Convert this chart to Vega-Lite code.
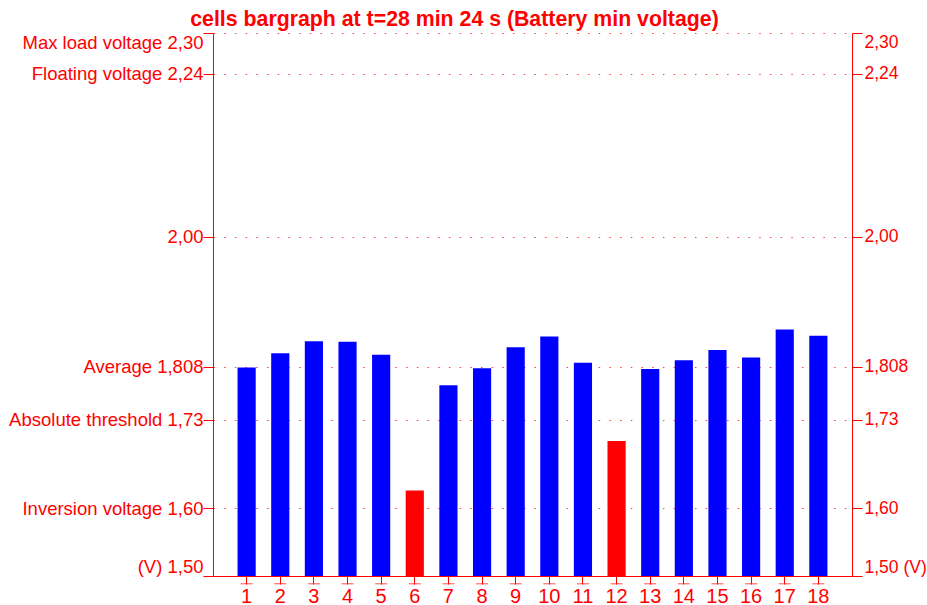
{
  "$schema": "https://vega.github.io/schema/vega-lite/v6.json",
  "autosize": "none",
  "width": 639,
  "height": 543,
  "padding": {"left": 213, "top": 33, "right": 75, "bottom": 29},
  "background": "white",
  "config": {"view": {"stroke": null}, "font": "Liberation Sans"},
  "title": {
    "text": "cells bargraph at t=28 min 24 s (Battery min voltage)",
    "fontSize": 21.3,
    "fontWeight": "bold",
    "color": "#FF0000",
    "font": "Liberation Sans",
    "anchor": "middle",
    "frame": "group",
    "dx": -78,
    "offset": 2
  },
  "data": {
    "values": [
      {"cell": 1, "v": 1.807},
      {"cell": 2, "v": 1.828},
      {"cell": 3, "v": 1.846},
      {"cell": 4, "v": 1.845},
      {"cell": 5, "v": 1.826},
      {"cell": 6, "v": 1.626},
      {"cell": 7, "v": 1.781},
      {"cell": 8, "v": 1.806},
      {"cell": 9, "v": 1.837},
      {"cell": 10, "v": 1.853},
      {"cell": 11, "v": 1.814},
      {"cell": 12, "v": 1.699},
      {"cell": 13, "v": 1.805},
      {"cell": 14, "v": 1.818},
      {"cell": 15, "v": 1.833},
      {"cell": 16, "v": 1.822},
      {"cell": 17, "v": 1.863},
      {"cell": 18, "v": 1.854}
    ]
  },
  "encoding": {
    "x": {
      "field": "cell",
      "type": "ordinal",
      "scale": {"paddingInner": 0.46, "paddingOuter": 0.73},
      "axis": {
        "title": null,
        "labelAngle": 0,
        "labelColor": "#FF0000",
        "labelFontSize": 20,
        "labelFont": "Liberation Sans",
        "labelPadding": 2,
        "domainColor": "#FF0000",
        "tickColor": "#FF0000",
        "tickSize": 8
      }
    },
    "y": {
      "field": "v",
      "type": "quantitative",
      "scale": {"domain": [1.5, 2.3], "zero": false, "nice": false}
    }
  },
  "layer": [
    {
      "mark": {"type": "bar", "clip": true},
      "encoding": {
        "y": {
          "field": "v",
          "type": "quantitative",
          "scale": {"domain": [1.5, 2.3], "zero": false, "nice": false},
          "axis": {
            "title": null,
            "orient": "left",
            "values": [1.5, 1.6, 1.73, 1.808, 2.0, 2.24, 2.3],
            "labelExpr": "abs(datum.value-1.5)<0.001 ? '(V) 1,50' : abs(datum.value-1.6)<0.001 ? 'Inversion voltage 1,60' : abs(datum.value-1.73)<0.001 ? 'Absolute threshold 1,73' : abs(datum.value-1.808)<0.001 ? 'Average 1,808' : abs(datum.value-2.0)<0.001 ? '2,00' : abs(datum.value-2.24)<0.001 ? 'Floating voltage 2,24' : 'Max load voltage 2,30'",
            "labelFlush": true,
            "labelLimit": 400,
            "labelColor": "#FF0000",
            "labelFontSize": 18.5,
            "labelFont": "Liberation Sans",
            "labelPadding": 0,
            "domainColor": "#FF0000",
            "tickColor": "#FF0000",
            "tickSize": 10,
            "grid": true,
            "gridColor": "#FF0000",
            "gridOpacity": 0.75,
            "gridDash": [1.5, 9.2]
          }
        },
        "color": {
          "condition": {"test": "datum.v < 1.73", "value": "#FF0000"},
          "value": "#0000FF"
        }
      }
    },
    {
      "mark": {"type": "bar", "opacity": 0, "clip": true},
      "encoding": {
        "y": {
          "field": "v",
          "type": "quantitative",
          "axis": {
            "title": null,
            "orient": "right",
            "values": [1.5, 1.6, 1.73, 1.808, 2.0, 2.24, 2.3],
            "labelExpr": "abs(datum.value-1.5)<0.001 ? '1,50 (V)' : abs(datum.value-1.6)<0.001 ? '1,60' : abs(datum.value-1.73)<0.001 ? '1,73' : abs(datum.value-1.808)<0.001 ? '1,808' : abs(datum.value-2.0)<0.001 ? '2,00' : abs(datum.value-2.24)<0.001 ? '2,24' : '2,30'",
            "labelFlush": true,
            "labelColor": "#FF0000",
            "labelFontSize": 17.5,
            "labelFont": "Liberation Sans",
            "labelPadding": 2,
            "domainColor": "#FF0000",
            "tickColor": "#FF0000",
            "tickSize": 10,
            "grid": false
          }
        }
      }
    },
    {
      "mark": {"type": "tick", "color": "#FF0000", "thickness": 1, "size": 12, "clip": false},
      "encoding": {
        "y": {"datum": 1.4885, "type": "quantitative", "axis": null}
      }
    }
  ],
  "resolve": {"axis": {"y": "independent"}}
}
